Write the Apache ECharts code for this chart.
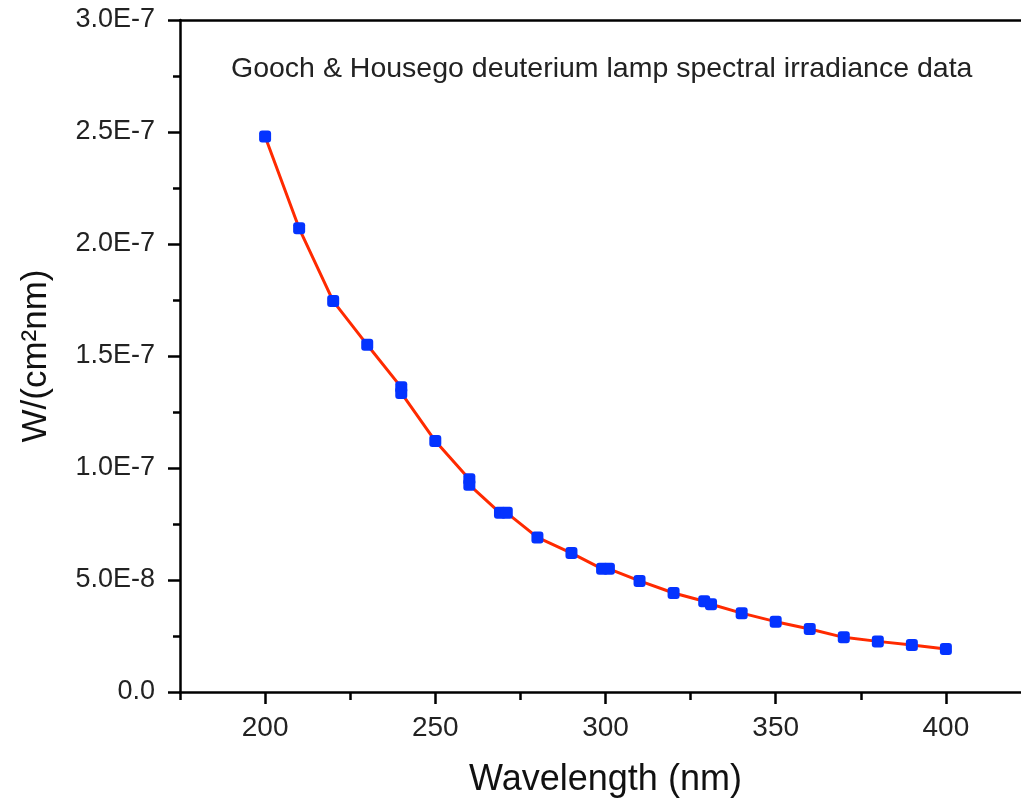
<!DOCTYPE html>
<html>
<head>
<meta charset="utf-8">
<title>Deuterium lamp spectral irradiance</title>
<script src="https://cdn.jsdelivr.net/npm/echarts@6/dist/echarts.min.js"></script>
<style>
  html, body { margin: 0; padding: 0; background: #fff; }
  #chart { width: 1021px; height: 808px; }
</style>
</head>
<body>
<div id="chart"></div>
<script>
// 数据：波长 (nm)
var wavelength = [200, 210, 220, 230, 240, 240, 250, 260, 260, 269, 271, 280, 290, 299, 301,
  310, 320, 329, 331, 340, 350, 360, 370, 380, 390, 400];
// 辐照度 W/(cm^2 nm)
var irradiance = [2.48e-7, 2.07e-7, 1.745e-7, 1.55e-7, 1.36e-7, 1.335e-7, 1.12e-7, 9.5e-8, 9.25e-8,
  8.0e-8, 8.0e-8, 6.9e-8, 6.2e-8, 5.5e-8, 5.5e-8, 4.96e-8, 4.42e-8, 4.05e-8, 3.92e-8, 3.52e-8,
  3.14e-8, 2.81e-8, 2.44e-8, 2.26e-8, 2.1e-8, 1.92e-8];
// 刻度标签
var xMajorTicks = [200, 250, 300, 350, 400];
var titleText = 'Gooch & Housego deuterium lamp spectral irradiance data';

var points = wavelength.map(function (w, i) { return [w, irradiance[i]]; });

var chart = echarts.init(document.getElementById('chart'));
var font = 'Liberation Sans, Arial, sans-serif';

var option = {
  animation: false,
  backgroundColor: '#fff',
  title: {
    text: titleText,
    left: 226,
    top: 50,
    textStyle: { fontFamily: font, fontWeight: 'normal', fontSize: 28.5, color: '#222' }
  },
  grid: { left: 180, right: -10, top: 20, bottom: 116, outerBoundsMode: 'none' },
  xAxis: [
    {
      type: 'value',
      min: 175,
      max: 425,
      interval: 25,
      name: 'Wavelength (nm)',
      nameLocation: 'middle',
      nameGap: 70,
      nameTextStyle: { fontFamily: font, fontSize: 36, color: '#111' },
      axisLine: { show: true, onZero: false, lineStyle: { color: '#000', width: 2.5 } },
      axisTick: { show: true, length: 8, lineStyle: { color: '#000', width: 2.5 } },
      axisLabel: {
        customValues: xMajorTicks,
        margin: 22,
        fontFamily: font,
        fontSize: 28,
        color: '#222'
      },
      splitLine: { show: false }
    },
    {
      // 主刻度（长）
      type: 'value',
      min: 175,
      max: 425,
      position: 'bottom',
      axisLine: { show: false },
      axisTick: { show: true, customValues: xMajorTicks, length: 12, lineStyle: { color: '#000', width: 2.5 } },
      axisLabel: { show: false },
      splitLine: { show: false }
    },
    {
      // 顶部边框
      type: 'value',
      min: 175,
      max: 425,
      position: 'top',
      axisLine: { show: true, onZero: false, lineStyle: { color: '#000', width: 2.5 } },
      axisTick: { show: false },
      axisLabel: { show: false },
      splitLine: { show: false }
    }
  ],
  yAxis: {
    type: 'value',
    min: 0,
    max: 3e-7,
    interval: 5e-8,
    name: 'W/(cm²nm)',
    nameLocation: 'middle',
    nameGap: 126,
    nameTextStyle: { fontFamily: font, fontSize: 35, color: '#111' },
    axisLine: { show: true, onZero: false, lineStyle: { color: '#000', width: 2.5 } },
    axisTick: { show: true, length: 12, lineStyle: { color: '#000', width: 2.5 } },
    minorTick: { show: true, splitNumber: 2, length: 7, lineStyle: { color: '#000', width: 2.5 } },
    axisLabel: {
      margin: 25,
      fontFamily: font,
      fontSize: 27,
      color: '#222',
      formatter: function (v) {
        if (v === 0) return '0.0';
        return v.toExponential(1).toUpperCase().replace('E+', 'E');
      }
    },
    splitLine: { show: false },
    minorSplitLine: { show: false }
  },
  series: [
    {
      type: 'line',
      xAxisIndex: 0,
      data: points,
      smooth: false,
      symbol: 'roundRect',
      symbolSize: 12,
      itemStyle: { color: '#0433ff' },
      lineStyle: { color: '#ff2a00', width: 3 },
      z: 3
    }
  ]
};

chart.setOption(option);
window.addEventListener('resize', function () {
  chart.resize();
});
</script>
</body>
</html>
